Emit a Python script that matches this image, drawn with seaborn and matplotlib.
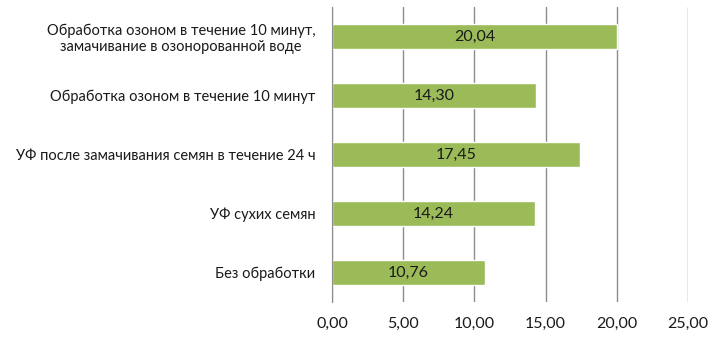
import numpy as np
import pandas as pd
import matplotlib.pyplot as plt
import matplotlib.ticker as mticker
import seaborn as sns

# Data (top to bottom as drawn)
categories = [
    "Обработка озоном в течение 10 минут,\nзамачивание в озонорованной воде",
    "Обработка озоном в течение 10 минут",
    "УФ после замачивания семян в течение 24 ч",
    "УФ сухих семян",
    "Без обработки",
]
values = [20.04, 14.30, 17.45, 14.24, 10.76]
value_labels = ["20,04", "14,30", "17,45", "14,24", "10,76"]
x_ticks = [0, 5, 10, 15, 20, 25]

sns.set_style("white")
plt.rcParams['font.family'] = ['Lato', 'DejaVu Sans']

df = pd.DataFrame({'cat': categories, 'val': values})

fig = plt.figure(figsize=(7.13, 3.38), dpi=100)
ax = fig.add_axes([0.4656, 0.1065, 0.4993, 0.8728])

sns.barplot(data=df, x='val', y='cat', orient='h', color='#9BBB59',
            saturation=1, width=0.42, ax=ax)

for p, lab in zip(ax.patches, value_labels):
    ax.text(p.get_x() + p.get_width() / 2, p.get_y() + p.get_height() / 2, lab,
            ha='center', va='center', fontsize=11.5, color='#1a1a1a')

ax.set_xlim(0, 25)
ax.set_ylim(len(categories) - 0.5, -0.5)
ax.set_xticks(x_ticks)
ax.xaxis.set_major_formatter(mticker.FuncFormatter(lambda v, _: f"{v:.2f}".replace('.', ',')))
ax.xaxis.grid(True, color='#8c8c8c', linewidth=1)
ax.set_axisbelow(True)
ax.set_xlabel('')
ax.set_ylabel('')

for s in ['top', 'right', 'bottom']:
    ax.spines[s].set_visible(False)
ax.spines['left'].set_color('#8c8c8c')

ax.tick_params(axis='x', length=5, width=1, color='#8c8c8c', labelsize=11.5,
               pad=6, labelcolor='#1a1a1a')
ax.set_yticks(np.arange(-0.5, len(categories) + 0.5, 1), minor=True)
ax.tick_params(axis='y', which='minor', length=4, color='#8c8c8c', width=1)
ax.tick_params(axis='y', which='major', length=0, labelsize=10.5, pad=12, colors='#1a1a1a')

# centre the lines of the two-line label
fig.canvas.draw()
for t in ax.yaxis.get_majorticklabels():
    t.set_multialignment('center')

plt.savefig('out.png', dpi=100)
